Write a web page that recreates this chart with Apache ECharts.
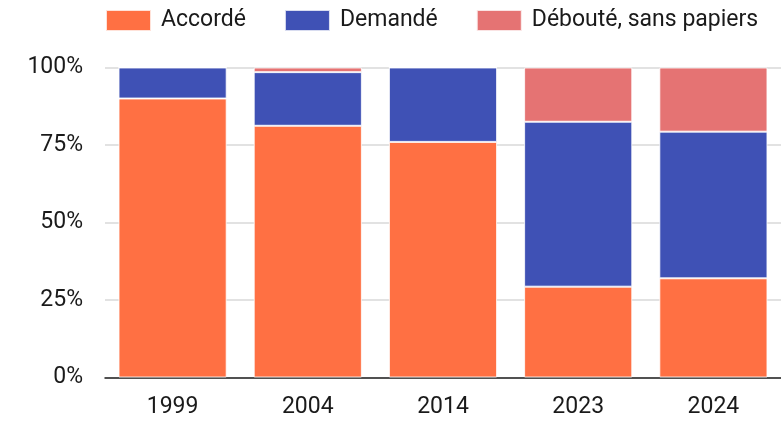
<!DOCTYPE html>
<html>
<head>
<meta charset="utf-8">
<script src="https://cdn.jsdelivr.net/npm/echarts@6/dist/echarts.min.js"></script>
<style>html,body{margin:0;padding:0;background:#fff;}#c{width:781px;height:422px;}</style>
</head>
<body>
<div id="c"></div>
<script>
const categories = ['1999', '2004', '2014', '2023', '2024'];
const accorde = [90, 81.2, 76, 29.3, 32];
const demande = [10, 17.3, 24, 53.2, 47.3];
const deboute = [0, 1.5, 0, 17.5, 20.7];
const yTicks = [0, 25, 50, 75, 100];

const chart = echarts.init(document.getElementById('c'), null, {renderer: 'canvas'});
const font = 'Roboto';
const barStyle = {borderColor: 'rgba(255,255,255,0.8)', borderWidth: 1};
chart.setOption({
  animation: false,
  backgroundColor: '#fff',
  textStyle: {fontFamily: font},
  legend: {
    left: 105, top: 9, padding: 0,
    itemWidth: 45, itemHeight: 21, itemGap: 38,
    icon: 'rect',
    textStyle: {fontSize: 23, color: '#1a1a1a', fontFamily: font, padding: [0, 0, 0, 5]},
    data: ['Accordé', 'Demandé', 'Débouté, sans papiers']
  },
  grid: {left: 105, right: 0, top: 67.5, bottom: 44.5},
  xAxis: {
    type: 'category', data: categories,
    axisTick: {show: false},
    axisLine: {lineStyle: {color: '#222', width: 1.5}},
    axisLabel: {fontSize: 23, color: '#1a1a1a', margin: 18, fontFamily: font}
  },
  yAxis: {
    type: 'value', min: 0, max: 100, interval: 25,
    axisLabel: {fontSize: 23, color: '#1a1a1a', margin: 22, fontFamily: font,
      formatter: v => yTicks.includes(v) ? v + '%' : ''},
    splitLine: {lineStyle: {color: '#d9d9d9', width: 1.5}},
    axisLine: {show: false}, axisTick: {show: false}
  },
  series: [
    {name: 'Accordé', type: 'bar', stack: 's', data: accorde, barCategoryGap: '20%', itemStyle: Object.assign({color: '#FF7043'}, barStyle)},
    {name: 'Demandé', type: 'bar', stack: 's', data: demande, itemStyle: Object.assign({color: '#3F51B5'}, barStyle)},
    {name: 'Débouté, sans papiers', type: 'bar', stack: 's', data: deboute, itemStyle: Object.assign({color: '#E57373'}, barStyle)}
  ]
});
</script>
</body>
</html>
